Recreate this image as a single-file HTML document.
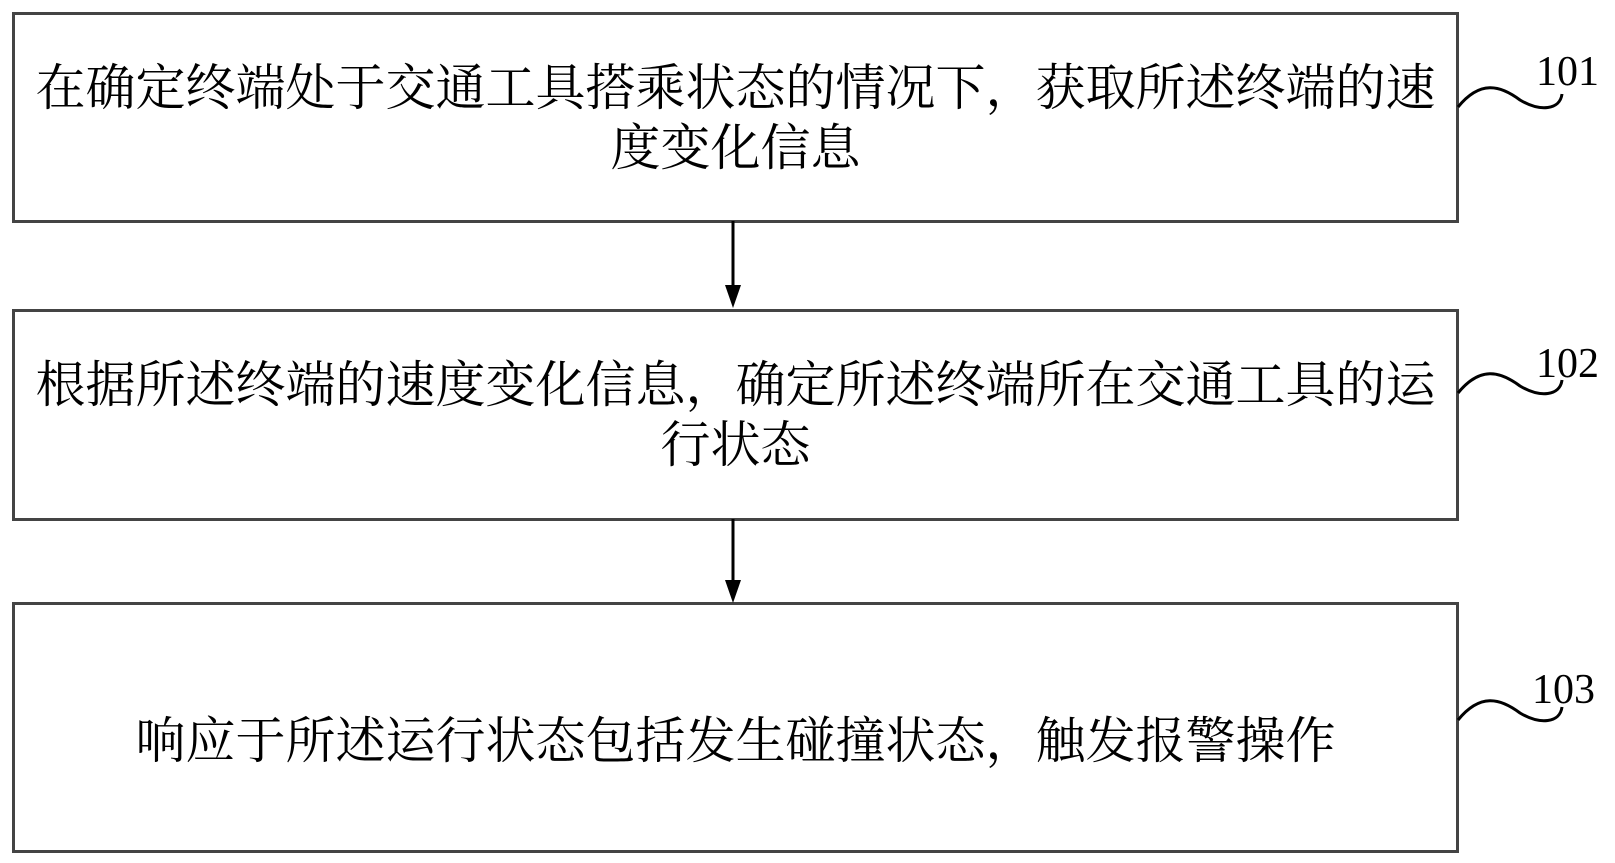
<!DOCTYPE html>
<html><head><meta charset="utf-8"><style>
body{margin:0;width:1615px;height:863px;background:#fff;position:relative;overflow:hidden;font-family:"Liberation Serif","Noto Serif CJK SC",serif;}
.b{position:absolute;left:12px;width:1441px;border:3px solid #444;display:flex;align-items:center;justify-content:center;text-align:center;font-size:50px;line-height:60px;color:#000;box-sizing:content-box;}
.l{position:absolute;font-size:42px;color:#000;}
</style></head><body>
<div class="b" style="top:12px;height:205px;">在确定终端处于交通工具搭乘状态的情况下，获取所述终端的速<br>度变化信息</div>
<div class="b" style="top:309px;height:206px;">根据所述终端的速度变化信息，确定所述终端所在交通工具的运<br>行状态</div>
<div class="b" style="top:602px;height:219px;padding-top:26px;">响应于所述运行状态包括发生碰撞状态，触发报警操作</div>
<svg width="1615" height="863" style="position:absolute;left:0;top:0">
<g stroke="#000" stroke-width="3" fill="none">
<line x1="733" y1="221" x2="733" y2="290"/>
<line x1="733" y1="519" x2="733" y2="585"/>
<path d="M1458,107 C1480,80 1500,85 1520,100 C1540,112 1560,110 1562,94"/>
<path d="M1458,393 C1480,366 1500,371 1520,386 C1540,398 1560,396 1562,380"/>
<path d="M1458,720 C1480,693 1500,698 1520,713 C1540,725 1560,723 1562,707"/>
</g>
<polygon points="725,285 741,285 733,308" fill="#000"/>
<polygon points="725,580 741,580 733,603" fill="#000"/>
</svg>
<div class="l" style="left:1536px;top:48px;">101</div>
<div class="l" style="left:1536px;top:340px;">102</div>
<div class="l" style="left:1532px;top:666px;">103</div>
</body></html>
